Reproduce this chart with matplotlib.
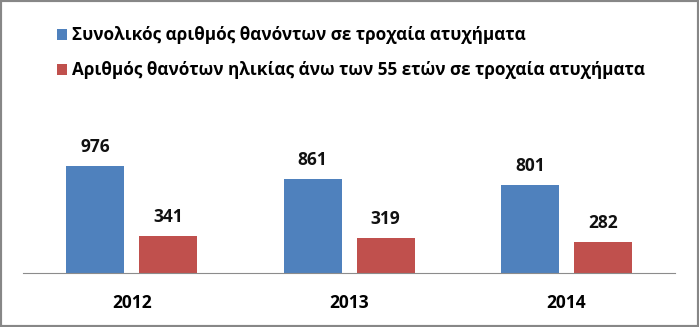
import matplotlib.pyplot as plt
from matplotlib.patches import Rectangle

years = ["2012", "2013", "2014"]
total_deaths = [976, 861, 801]
over55_deaths = [341, 319, 282]
series_labels = [
    "Συνολικός αριθμός θανόντων σε τροχαία ατυχήματα",
    "Αριθμός θανότων ηλικίας άνω των 55 ετών σε τροχαία ατυχήματα",
]
colors = ["#4F81BD", "#C0504D"]

plt.rcParams['font.family'] = ['Open Sans', 'DejaVu Sans']

fig = plt.figure(figsize=(6.99, 3.27), dpi=100)
ax = fig.add_axes([0.033, 0.165, 0.9328, 0.369])

x = list(range(len(years)))
w = 0.267
off = 0.168
b1 = ax.bar([i - off for i in x], total_deaths, w, color=colors[0], label=series_labels[0])
b2 = ax.bar([i + off for i in x], over55_deaths, w, color=colors[1], label=series_labels[1])

for b in (b1, b2):
    ax.bar_label(b, padding=7, fontsize=12.5, fontweight='bold', color='#111111')

ax.set_xlim(-0.5, 2.5)
ax.set_ylim(0, 1100)
ax.set_xticks(x)
ax.set_xticklabels(years, fontsize=12.5, fontweight='bold')
ax.tick_params(axis='x', length=0, pad=15)
ax.set_yticks([])
for s in ['top', 'left', 'right']:
    ax.spines[s].set_visible(False)
ax.spines['bottom'].set_color('#8C8C8C')

fig.legend(loc='upper left', bbox_to_anchor=(57 / 699, 0.92), frameon=False,
           prop={'size': 12.3, 'weight': 'bold'}, handlelength=0.6, handleheight=0.6,
           handletextpad=0.3, labelspacing=1.0, borderpad=0, borderaxespad=0)

fig.patches.append(Rectangle((0, 0), 1, 1, transform=fig.transFigure, fill=False,
                             edgecolor='#878787', linewidth=3))

fig.savefig("out.png", dpi=100)
